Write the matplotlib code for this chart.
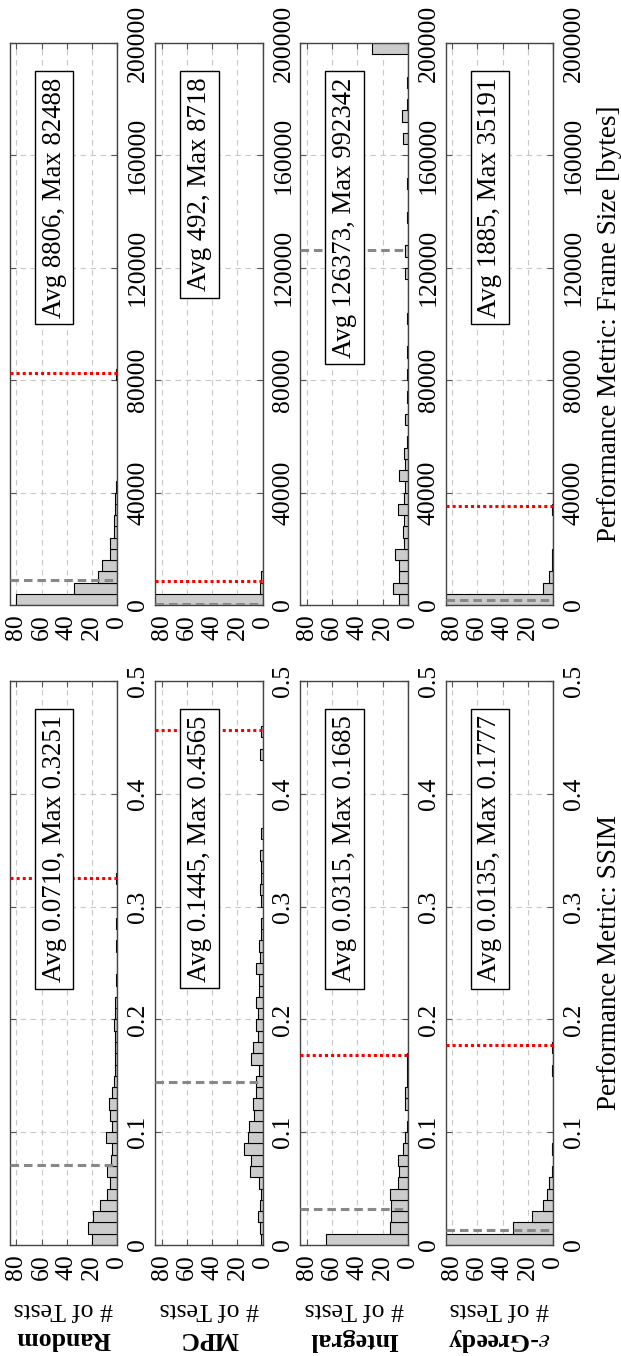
import matplotlib
matplotlib.use("Agg")
import matplotlib.pyplot as plt
import numpy as np
from matplotlib.transforms import blended_transform_factory

plt.rcParams['font.family'] = ['Liberation Serif', 'DejaVu Serif']
plt.rcParams['mathtext.fontset'] = 'stix'

# ---------------- data ----------------
methods = ["Random", "MPC", "Integral", r"$\varepsilon$-Greedy"]

# SSIM histograms (bins of 0.01 from 0 to 0.5)
random_ssim = [20, 23, 19, 14, 8, 6, 8, 5, 4, 9, 4, 6, 7, 4, 3, 2, 2, 2, 2, 3,
               2, 2, 0, 1, 0, 0, 1, 0, 1, 0, 0, 0, 1, 0, 0, 0, 0, 0, 0, 0,
               0, 0, 0, 0, 0, 0, 0, 0, 0, 0]
mpc_ssim = [1, 2, 4, 2, 1, 3, 10, 9, 15, 12, 11, 7, 8, 5, 5, 3, 9, 8, 4, 5,
            4, 5, 3, 3, 5, 2, 3, 1, 1, 0, 1, 2, 1, 1, 2, 0, 1, 0, 0, 0,
            0, 0, 0, 2, 0, 1, 0, 0, 0, 0]
integral_ssim = [65, 14, 13, 13, 14, 8, 7, 8, 4, 2, 1, 0, 2, 2, 1, 1, 1, 0, 0, 0,
                 0, 0, 0, 0, 0, 0, 0, 0, 0, 0, 0, 0, 0, 0, 0, 0, 0, 0, 0, 0,
                 0, 0, 0, 0, 0, 0, 0, 0, 0, 0]
egreedy_ssim = [95, 32, 17, 8, 5, 3, 1, 0, 1, 0, 0, 0, 0, 0, 0, 1, 0, 1, 0, 0,
                0, 0, 0, 0, 0, 0, 0, 0, 0, 0, 0, 0, 0, 0, 0, 0, 0, 0, 0, 0,
                0, 0, 0, 0, 0, 0, 0, 0, 0, 0]

# Frame size histograms (bins of 4000 bytes from 0 to 200000)
random_fs = [80, 34, 15, 12, 6, 6, 3, 3, 2, 2, 1, 0, 0, 0, 0, 0, 0, 0, 0, 0,
             1, 0, 0, 0, 0, 0, 0, 0, 0, 0, 0, 0, 0, 0, 0, 0, 0, 0, 0, 0,
             0, 0, 0, 0, 0, 0, 0, 0, 0, 0]
mpc_fs = [95, 2, 1, 0, 0, 0, 0, 0, 0, 0, 0, 0, 0, 0, 0, 0, 0, 0, 0, 0,
          0, 0, 0, 0, 0, 0, 0, 0, 0, 0, 0, 0, 0, 0, 0, 0, 0, 0, 0, 0,
          0, 0, 0, 0, 0, 0, 0, 0, 0, 0]
integral_fs = [7, 12, 7, 7, 10, 3, 4, 3, 8, 3, 2, 7, 2, 3, 1, 0, 2, 0, 1, 0,
               1, 0, 1, 0, 0, 1, 0, 0, 0, 2, 0, 2, 0, 0, 1, 0, 0, 1, 0, 0,
               0, 4, 0, 5, 1, 0, 1, 0, 0, 28]
egreedy_fs = [95, 8, 3, 1, 1, 0, 0, 0, 1, 0, 0, 0, 0, 0, 0, 0, 0, 0, 0, 0,
              0, 0, 0, 0, 0, 0, 0, 0, 0, 0, 0, 0, 0, 0, 0, 0, 0, 0, 0, 0,
              0, 0, 0, 0, 0, 0, 0, 0, 0, 0]

ssim_avg = [0.0710, 0.1445, 0.0315, 0.0135]
ssim_max = [0.3251, 0.4565, 0.1685, 0.1777]
fs_avg = [8806, 492, 126373, 1885]
fs_max = [82488, 8718, 992342, 35191]

ssim_bin_width = 0.01
fs_bin_width = 4000

count_ticks = [0, 20, 40, 60, 80]
ssim_ticks = [0, 0.1, 0.2, 0.3, 0.4, 0.5]
ssim_tick_labels = ["0", "0.1", "0.2", "0.3", "0.4", "0.5"]
fs_ticks = [0, 40000, 80000, 120000, 160000, 200000]
fs_tick_labels = ["0", "40000", "80000", "120000", "160000", "200000"]

ssim_counts = [random_ssim, mpc_ssim, integral_ssim, egreedy_ssim]
fs_counts = [random_fs, mpc_fs, integral_fs, egreedy_fs]

# ---------------- layout ----------------
W, H = 621, 1356
fig = plt.figure(figsize=(W / 100, H / 100), dpi=100)
col_left = [9.9, 155.2, 300.4, 445.6]
col_w = 107.5
ssim_top, ssim_bot = 681, 1245
fs_top, fs_bot = 43, 605
FS = 18.5
BOX_FS = 19.3


def make_ax(xl, top, bot):
    return fig.add_axes([xl / W, (H - bot) / H, col_w / W, (bot - top) / H])


def panel(ax, counts, bw, ymax, yticks, ylabels, avg, mx, label):
    centers = (np.arange(len(counts)) + 0.5) * bw
    ax.barh(centers, counts, height=bw, color='#cccccc', edgecolor='black',
            linewidth=0.8, zorder=2)
    ax.set_xlim(85, 0)
    ax.set_ylim(0, ymax)
    ax.set_xticks(count_ticks)
    ax.set_xticklabels([str(t) for t in count_ticks], rotation=90)
    ax.set_yticks(yticks)
    ax.set_yticklabels(ylabels, rotation=90, va='center')
    ax.tick_params(axis='y', left=True, right=True, labelleft=False,
                   labelright=True, pad=7)
    ax.tick_params(axis='x', top=True, bottom=True, pad=7)
    ax.tick_params(axis='both', direction='in', length=4, width=0.8,
                   color='#555555', labelsize=FS, labelcolor='black')
    ax.grid(True, color='#c8c8c8', linestyle=(0, (5, 4)), linewidth=0.8)
    ax.set_axisbelow(True)
    for s in ax.spines.values():
        s.set_color('#444444')
        s.set_linewidth(1.0)
    ax.axhline(avg, color='#888888', lw=2.2, dashes=(2.8, 1.6), zorder=3)
    if mx <= ymax:
        ax.axhline(mx, color='red', lw=2.2, dashes=(1, 1), zorder=3)
    tr = blended_transform_factory(ax.transData, ax.transAxes)
    ax.text(50, 0.939, label, transform=tr, rotation=90, ha='center', va='top',
            fontsize=BOX_FS, zorder=5,
            bbox=dict(boxstyle='square,pad=0.25', facecolor='white',
                      edgecolor='black', linewidth=1.0))


for i in range(4):
    ax = make_ax(col_left[i], ssim_top, ssim_bot)
    panel(ax, ssim_counts[i], ssim_bin_width, 0.5, ssim_ticks, ssim_tick_labels,
          ssim_avg[i], ssim_max[i],
          f"Avg {ssim_avg[i]:.4f}, Max {ssim_max[i]:.4f}")
    ax2 = make_ax(col_left[i], fs_top, fs_bot)
    panel(ax2, fs_counts[i], fs_bin_width, 200000, fs_ticks, fs_tick_labels,
          fs_avg[i], fs_max[i], f"Avg {fs_avg[i]}, Max {fs_max[i]}")
    cx = (col_left[i] + col_w / 2) / W
    fig.text(cx, 1 - 1309 / H, "# of Tests", rotation=180, ha='center',
             va='center', fontsize=FS)
    fig.text(cx, 1 - 1339 / H, methods[i], rotation=180, ha='center',
             va='center', fontsize=FS, fontweight='bold')

fig.text(609 / W, 1 - 963 / H, "Performance Metric: SSIM", rotation=90,
         ha='center', va='center', fontsize=19.5)
fig.text(609 / W, 1 - 324 / H, "Performance Metric: Frame Size [bytes]",
         rotation=90, ha='center', va='center', fontsize=19.5)

fig.savefig("out.png", dpi=100)
